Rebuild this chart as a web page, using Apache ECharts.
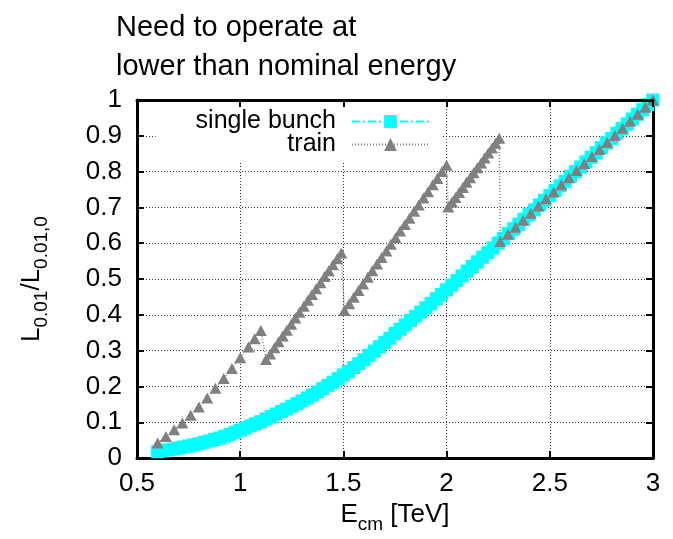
<!DOCTYPE html>
<html>
<head>
<meta charset="utf-8">
<script src="https://cdn.jsdelivr.net/npm/echarts@6/dist/echarts.min.js"></script>
<style>
html,body{margin:0;padding:0;background:#fff;}
#chart{width:673px;height:539px;}
</style>
</head>
<body>
<div id="chart"></div>
<script>
// Single bunch: E_cm [TeV] and L_0.01/L_0.01,0
var singleX = [0.600,0.625,0.650,0.675,0.700,0.725,0.750,0.775,0.800,0.825,0.850,0.875,0.900,0.925,0.950,0.975,
  1.000,1.025,1.050,1.075,1.100,1.125,1.150,1.175,1.200,1.225,1.250,1.275,1.300,1.325,1.350,1.375,1.400,1.425,1.450,1.475,
  1.500,1.525,1.550,1.575,1.600,1.625,1.650,1.675,1.700,1.725,1.750,1.775,1.800,1.825,1.850,1.875,1.900,1.925,1.950,1.975,
  2.000,2.025,2.050,2.075,2.100,2.125,2.150,2.175,2.200,2.225,2.250,2.275,2.300,2.325,2.350,2.375,2.400,2.425,2.450,2.475,
  2.500,2.525,2.550,2.575,2.600,2.625,2.650,2.675,2.700,2.725,2.750,2.775,2.800,2.825,2.850,2.875,2.900,2.925,2.950,2.975,3.000];
var singleY = [0.018,0.020,0.023,0.025,0.028,0.031,0.034,0.037,0.040,0.044,0.048,0.052,0.056,0.061,0.066,0.072,
  0.078,0.084,0.090,0.096,0.102,0.109,0.116,0.123,0.130,0.137,0.145,0.152,0.160,0.168,0.176,0.185,0.194,0.203,0.212,0.222,
  0.232,0.242,0.253,0.264,0.275,0.287,0.299,0.311,0.323,0.335,0.348,0.360,0.372,0.384,0.396,0.408,0.420,0.432,0.445,0.457,
  0.470,0.483,0.496,0.509,0.522,0.535,0.548,0.561,0.574,0.587,0.600,0.613,0.627,0.640,0.653,0.667,0.680,0.693,0.707,0.720,
  0.733,0.747,0.760,0.773,0.787,0.800,0.813,0.827,0.840,0.853,0.867,0.880,0.893,0.907,0.920,0.933,0.947,0.960,0.973,0.987,1.000];

// Train
var trainX = [0.60,0.64,0.68,0.72,0.76,0.80,0.84,0.88,0.92,0.96,1.00,1.04,1.07,1.10,
  1.125,1.145,1.166,1.186,1.206,1.226,1.247,1.267,1.287,1.308,1.328,1.348,1.368,1.389,1.409,1.429,1.449,1.470,1.490,
  1.505,1.528,1.550,1.573,1.595,1.618,1.640,1.663,1.685,1.708,1.730,1.753,1.775,1.798,1.820,1.843,1.865,1.888,1.910,1.933,1.955,1.978,2.000,
  2.008,2.026,2.043,2.061,2.079,2.096,2.114,2.131,2.149,2.167,2.184,2.202,2.220,2.237,2.255,
  2.260,2.297,2.334,2.371,2.408,2.445,2.482,2.519,2.556,2.593,2.630,2.667,2.704,2.741,2.778,2.815,2.852,2.889,2.926,2.963,3.000];
var trainY = [0.042,0.060,0.079,0.098,0.120,0.143,0.168,0.195,0.222,0.250,0.280,0.310,0.333,0.356,
  0.275,0.291,0.308,0.325,0.341,0.357,0.374,0.391,0.407,0.424,0.441,0.457,0.473,0.490,0.507,0.523,0.540,0.557,0.573,
  0.412,0.431,0.449,0.468,0.486,0.505,0.523,0.542,0.560,0.578,0.597,0.615,0.634,0.652,0.670,0.689,0.707,0.726,0.744,0.763,0.781,0.800,0.818,
  0.701,0.715,0.728,0.742,0.756,0.770,0.783,0.797,0.811,0.824,0.838,0.852,0.866,0.879,0.893,
  0.605,0.625,0.645,0.664,0.684,0.704,0.724,0.743,0.763,0.783,0.803,0.822,0.842,0.862,0.881,0.901,0.921,0.941,0.960,0.980,1.000];

var xTicks = {min: 0.5, max: 3, interval: 0.5};
var yTicks = {min: 0, max: 1, interval: 0.1};
var seriesNames = ['single bunch', 'train'];

function pairs(xs, ys) { return xs.map(function (x, i) { return [x, ys[i]]; }); }

var FONT = '"Liberation Sans", Arial, Helvetica, sans-serif';
var chart = echarts.init(document.getElementById('chart'), null, {renderer: 'canvas'});

var tickStyle = {show: true, inside: true, length: 7, lineStyle: {color: '#000', width: 2}};
var lineAx = {show: true, onZero: false, lineStyle: {color: '#000', width: 3}};
var gridLine = {show: true, lineStyle: {color: '#333', width: 1, type: [1, 2]}};
var nameRich = {
  m: {fontFamily: FONT, fontSize: 26, color: '#000', lineHeight: 26, verticalAlign: 'top'},
  s: {fontFamily: FONT, fontSize: 19, color: '#000', lineHeight: 19, verticalAlign: 'top', padding: [13, 0, 0, 0]}
};

chart.setOption({
  animation: false,
  backgroundColor: '#fff',
  title: {
    text: 'Need to operate at\nlower than nominal energy',
    left: 116, top: 8, padding: 0,
    textStyle: {fontFamily: FONT, fontSize: 29, fontWeight: 'normal', color: '#000', lineHeight: 39}
  },
  grid: {left: 137, right: 20, top: 100, bottom: 80, containLabel: false},
  legend: {
    orient: 'vertical', align: 'right', right: 230, top: 104,
    padding: [5, 13, 5, 40], itemGap: -2, itemWidth: 77, itemHeight: 16,
    backgroundColor: '#fff', z: 4,
    textStyle: {fontFamily: FONT, fontSize: 25, color: '#000', lineHeight: 20, padding: [0, 11, 0, 0]},
    data: seriesNames
  },
  xAxis: [{
    type: 'value', position: 'bottom', min: xTicks.min, max: xTicks.max, interval: xTicks.interval,
    axisLine: lineAx, axisTick: tickStyle, splitLine: gridLine,
    axisLabel: {fontFamily: FONT, fontSize: 26, color: '#000', margin: 13},
    name: '{m|E}{s|cm}{m| [TeV]}', nameLocation: 'middle', nameGap: 29,
    nameTextStyle: {rich: nameRich}
  }, {
    type: 'value', position: 'top', min: xTicks.min, max: xTicks.max, interval: xTicks.interval, z: 5,
    axisLine: lineAx, axisTick: tickStyle, splitLine: {show: false}, axisLabel: {show: false}
  }],
  yAxis: [{
    type: 'value', position: 'left', min: yTicks.min, max: yTicks.max, interval: yTicks.interval,
    axisLine: lineAx, axisTick: tickStyle, splitLine: gridLine,
    axisLabel: {fontFamily: FONT, fontSize: 26, color: '#000', margin: 15},
    name: '{m|L}{s|0.01}{m|/L}{s|0.01,0}', nameLocation: 'middle', nameGap: 92,
    nameTextStyle: {rich: nameRich}
  }, {
    type: 'value', position: 'right', min: yTicks.min, max: yTicks.max, interval: yTicks.interval,
    axisLine: lineAx, axisTick: tickStyle, splitLine: {show: false}, axisLabel: {show: false}
  }],
  series: [{
    name: seriesNames[0], type: 'line', xAxisIndex: 0, yAxisIndex: 0,
    data: pairs(singleX, singleY), clip: false,
    symbol: 'rect', symbolSize: 13, showSymbol: true,
    itemStyle: {color: '#00ffff'},
    lineStyle: {color: '#00ffff', width: 1.5, type: [8, 3, 2, 3]},
    z: 2
  }, {
    name: seriesNames[1], type: 'line', xAxisIndex: 0, yAxisIndex: 0,
    data: pairs(trainX, trainY), clip: false,
    symbol: 'triangle', symbolSize: [12, 11], showSymbol: true,
    itemStyle: {color: '#808080'},
    lineStyle: {color: '#808080', width: 1.5, type: [1, 2]},
    z: 3
  }]
});
</script>
</body>
</html>
